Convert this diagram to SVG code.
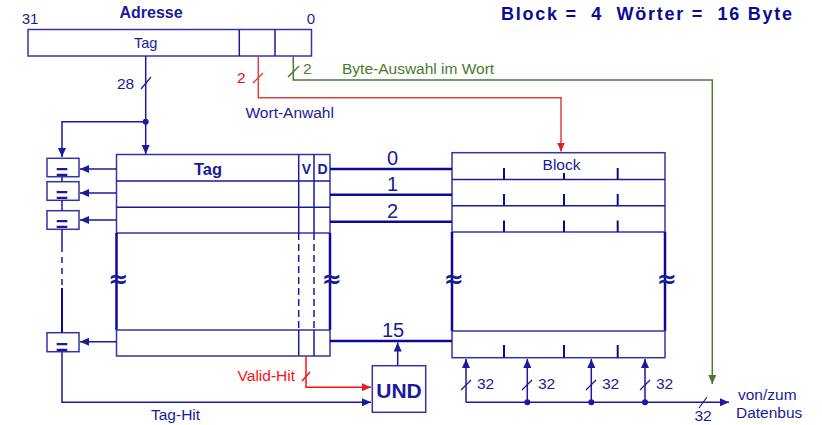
<svg xmlns="http://www.w3.org/2000/svg" width="822" height="425" viewBox="0 0 822 425">
<style>
text{font-family:"Liberation Sans",Arial,sans-serif;fill:#1a1a9c}
.b{font-weight:bold}
.box{fill:#fff;stroke:#3434a8;stroke-width:1.5}
.ln{fill:none;stroke:#1a1a9c;stroke-width:1.5}
.thk{fill:none;stroke:#0a0a96;stroke-width:2.5}
.red{fill:none;stroke:#e04040;stroke-width:1.5}
.grn{fill:none;stroke:#4a7a30;stroke-width:1.5}
.sl{fill:none;stroke:#1a1a9c;stroke-width:1.2}
text.approx{font-family:"DejaVu Sans",sans-serif;font-size:24px;font-weight:bold;text-anchor:middle}
.eq{font-size:21px;font-weight:bold;text-anchor:middle}
.num{font-size:20px;text-anchor:middle}
.s13{font-size:15.5px}
</style>
<defs>
<marker id="ab" markerUnits="userSpaceOnUse" markerWidth="10" markerHeight="8" refX="9" refY="4" orient="auto"><path d="M0,0 L9,4 L0,8 z" fill="#1a1a9c"/></marker>
<marker id="ar" markerUnits="userSpaceOnUse" markerWidth="10" markerHeight="8" refX="9" refY="4" orient="auto"><path d="M0,0 L9,4 L0,8 z" fill="#e02020"/></marker>
<marker id="ag" markerUnits="userSpaceOnUse" markerWidth="10" markerHeight="8" refX="9" refY="4" orient="auto"><path d="M0,0 L9,4 L0,8 z" fill="#4a7a30"/></marker>
</defs>
<rect width="822" height="425" fill="#fff"/>

<text class="b" x="501" y="20" font-size="18" letter-spacing="1.75" style="fill:#0a0a96;white-space:pre">Block =  4  Wörter =  16 Byte</text>

<g id="address">
<text class="b" x="151" y="18" font-size="16" text-anchor="middle">Adresse</text>
<text x="30" y="24" font-size="15" text-anchor="middle">31</text>
<text x="311" y="24" font-size="15" text-anchor="middle">0</text>
<rect class="box" x="28" y="29.5" width="283.5" height="26.5"/>
<line class="ln" x1="239.3" y1="29.5" x2="239.3" y2="56"/>
<line class="ln" x1="275" y1="29.5" x2="275" y2="56"/>
<text x="145.7" y="48" font-size="14.5" text-anchor="middle">Tag</text>
</g>

<g id="tag-table">
<rect class="box" x="116.5" y="154.5" width="213.5" height="78.5"/>
<line class="ln" x1="116.5" y1="181" x2="330" y2="181"/>
<line class="ln" x1="116.5" y1="207.3" x2="330" y2="207.3"/>
<line class="ln" x1="298.7" y1="154.5" x2="298.7" y2="233"/>
<line class="ln" x1="314" y1="154.5" x2="314" y2="233"/>
<text class="b" x="208" y="174.5" font-size="16.5" text-anchor="middle">Tag</text>
<text class="b" x="306.5" y="173.5" font-size="14" text-anchor="middle">V</text>
<text class="b" x="322.5" y="173.5" font-size="14" text-anchor="middle">D</text>
<line class="thk" x1="116.5" y1="233" x2="116.5" y2="330"/>
<line class="thk" x1="330" y1="233" x2="330" y2="330"/>
<line class="ln" x1="298.7" y1="233" x2="298.7" y2="330" stroke-dasharray="7,4"/>
<line class="ln" x1="314" y1="233" x2="314" y2="330" stroke-dasharray="7,4"/>
<rect class="box" x="116.5" y="330" width="213.5" height="26"/>
<line class="ln" x1="298.7" y1="330" x2="298.7" y2="356"/>
<line class="ln" x1="314" y1="330" x2="314" y2="356"/>
<text class="approx" x="118" y="287">≈</text>
<text class="approx" x="331.5" y="287">≈</text>
</g>

<g id="block-table">
<rect class="box" x="452" y="152.7" width="213" height="79.3"/>
<line class="ln" x1="452" y1="179.5" x2="665" y2="179.5"/>
<line class="ln" x1="452" y1="205.7" x2="665" y2="205.7"/>
<text class="s13" x="561.5" y="170" text-anchor="middle">Block</text>
<g class="thk" style="stroke-width:2">
<line x1="504" y1="168" x2="504" y2="179.5"/><line x1="564" y1="173" x2="564" y2="179.5"/><line x1="617.7" y1="168" x2="617.7" y2="179.5"/>
<line x1="504" y1="194" x2="504" y2="205.7"/><line x1="564" y1="194" x2="564" y2="205.7"/><line x1="617.7" y1="194" x2="617.7" y2="205.7"/>
<line x1="504" y1="220.5" x2="504" y2="232"/><line x1="564" y1="220.5" x2="564" y2="232"/><line x1="617.7" y1="220.5" x2="617.7" y2="232"/>
</g>
<line class="thk" x1="452" y1="232" x2="452" y2="331"/>
<line class="thk" x1="665" y1="232" x2="665" y2="331"/>
<rect class="box" x="452" y="331" width="213" height="26.7"/>
<g class="thk" style="stroke-width:2">
<line x1="504" y1="345" x2="504" y2="357.7"/><line x1="564" y1="345" x2="564" y2="357.7"/><line x1="617.7" y1="345" x2="617.7" y2="357.7"/>
</g>
<text class="approx" x="453.5" y="287">≈</text>
<text class="approx" x="666.5" y="287">≈</text>
</g>

<g id="comparators">
<rect class="box" x="47" y="158.3" width="32" height="18.4"/>
<text class="eq" x="62" y="178.5">=</text>
<rect class="box" x="47" y="181.7" width="32" height="18.6"/>
<text class="eq" x="62" y="202">=</text>
<rect class="box" x="47" y="210.7" width="32" height="18.6"/>
<text class="eq" x="62" y="231">=</text>
<rect class="box" x="47" y="332.7" width="32" height="19"/>
<text class="eq" x="62" y="353.5">=</text>
</g>

<g id="und">
<rect class="box" x="372.3" y="365.7" width="53.4" height="46.6"/>
<text class="b" x="399" y="397.5" font-size="21" text-anchor="middle">UND</text>
</g>

<g id="connectors">
<line class="ln" x1="145.7" y1="56" x2="145.7" y2="154" marker-end="url(#ab)"/>
<line class="sl" x1="141" y1="89" x2="151" y2="77"/>
<text class="s13" x="117" y="88.5">28</text>
<circle cx="145.7" cy="121.7" r="3" fill="#1a1a9c"/>
<polyline class="ln" points="145.7,121.7 62,121.7 62,157" marker-end="url(#ab)"/>
<line class="ln" x1="62" y1="176.7" x2="62" y2="181.7"/>
<line class="ln" x1="62" y1="200.3" x2="62" y2="210.7"/>
<line class="ln" x1="62" y1="229.3" x2="62" y2="246"/>
<line class="ln" x1="62" y1="246" x2="62" y2="288" stroke-dasharray="6,5"/>
<line class="thk" style="stroke-width:2" x1="62" y1="288" x2="62" y2="332.7"/>
<polyline class="ln" points="62,351.7 62,402.3 371,402.3" marker-end="url(#ab)"/>
<text class="s13" x="151" y="420">Tag-Hit</text>
<line class="ln" x1="116.5" y1="169" x2="80" y2="169" marker-end="url(#ab)"/>
<line class="ln" x1="116.5" y1="193" x2="80" y2="193" marker-end="url(#ab)"/>
<line class="ln" x1="116.5" y1="220" x2="80" y2="220" marker-end="url(#ab)"/>
<line class="ln" x1="116.5" y1="341.7" x2="80" y2="341.7" marker-end="url(#ab)"/>
<line class="thk" x1="330" y1="169" x2="452" y2="169"/>
<line class="thk" x1="330" y1="194.7" x2="452" y2="194.7"/>
<line class="thk" x1="330" y1="221.7" x2="452" y2="221.7"/>
<line class="thk" x1="330" y1="341" x2="452" y2="341"/>
<text class="num" x="392.5" y="165">0</text>
<text class="num" x="392.5" y="191">1</text>
<text class="num" x="392.5" y="218">2</text>
<text class="num" x="393" y="337">15</text>
<line class="ln" x1="397.7" y1="365.7" x2="397.7" y2="342.5" marker-end="url(#ab)"/>
<polyline class="red" points="258.3,56 258.3,97.7 561,97.7 561,151.5" marker-end="url(#ar)"/>
<line class="red" x1="253" y1="83" x2="263" y2="73"/>
<text class="s13" x="237" y="83" style="fill:#e01010">2</text>
<text class="s13" x="245.5" y="118">Wort-Anwahl</text>
<polyline class="grn" points="293.3,56 293.3,80 712.3,80 712.3,384" marker-end="url(#ag)"/>
<line class="grn" x1="288" y1="77" x2="299" y2="66"/>
<text class="s13" x="303" y="74" style="fill:#4a7a30">2</text>
<text class="s13" x="342" y="74" style="fill:#4a7a30">Byte-Auswahl im Wort</text>
<polyline class="red" style="stroke:#ff1010" points="306,356 306,387.3 371,387.3" marker-end="url(#ar)"/>
<line class="red" style="stroke:#ff1010" x1="302" y1="381" x2="310" y2="372"/>
<text class="s13" x="295" y="381" text-anchor="end" style="fill:#ff1010">Valid-Hit</text>
<line class="ln" x1="466" y1="402.3" x2="729" y2="402.3" marker-end="url(#ab)"/>
<line class="ln" x1="466" y1="402.3" x2="466" y2="359" marker-end="url(#ab)"/>
<line class="ln" x1="527.3" y1="402.3" x2="527.3" y2="359" marker-end="url(#ab)"/>
<line class="ln" x1="591.3" y1="402.3" x2="591.3" y2="359" marker-end="url(#ab)"/>
<line class="ln" x1="645" y1="402.3" x2="645" y2="359" marker-end="url(#ab)"/>
<circle cx="527.3" cy="402.3" r="3" fill="#1a1a9c"/>
<circle cx="591.3" cy="402.3" r="3" fill="#1a1a9c"/>
<circle cx="645" cy="402.3" r="3" fill="#1a1a9c"/>
<line class="sl" x1="461" y1="390" x2="471" y2="380"/>
<line class="sl" x1="522" y1="390" x2="532" y2="380"/>
<line class="sl" x1="586" y1="390" x2="596" y2="380"/>
<line class="sl" x1="640" y1="390" x2="650" y2="380"/>
<text class="s13" x="477" y="389">32</text>
<text class="s13" x="538" y="389">32</text>
<text class="s13" x="602" y="389">32</text>
<text class="s13" x="656" y="389">32</text>
<line class="sl" x1="699" y1="408" x2="707" y2="397"/>
<text class="s13" x="703" y="421" text-anchor="middle">32</text>
<text class="s13" x="738" y="400">von/zum</text>
<text class="s13" x="736" y="418">Datenbus</text>
</g>
</svg>
